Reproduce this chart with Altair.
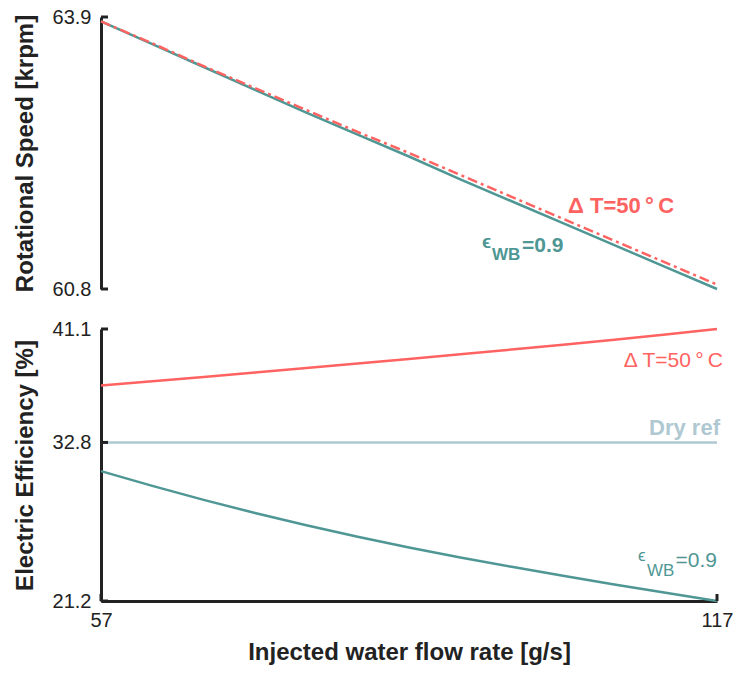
import altair as alt
import pandas as pd

# ---------------- data ----------------
flow = [57, 62, 67, 72, 77, 82, 87, 92, 97, 102, 107, 112, 117]
speed_wb = [63.85, 63.59, 63.33, 63.07, 62.81, 62.56, 62.31, 62.05, 61.80, 61.55, 61.30, 61.05, 60.80]
speed_dt = [63.85, 63.60, 63.34, 63.09, 62.84, 62.59, 62.35, 62.10, 61.85, 61.60, 61.35, 61.10, 60.85]
eff_dt = [36.96, 37.27, 37.59, 37.92, 38.25, 38.58, 38.91, 39.25, 39.60, 39.95, 40.32, 40.70, 41.10]
eff_dry = [32.8, 32.8, 32.8, 32.8, 32.8, 32.8, 32.8, 32.8, 32.8, 32.8, 32.8, 32.8, 32.8]
eff_wb = [30.70, 29.62, 28.60, 27.64, 26.74, 25.90, 25.12, 24.39, 23.70, 23.04, 22.41, 21.80, 21.20]

speed_ticks = [60.8, 63.9]
eff_ticks = [21.2, 32.8, 41.1]
flow_ticks = [57, 117]

# annotation texts (x, y in data units)
top_text = ["Δ T=50\u2009°\u2009C", "ϵ", "WB", "=0.9"]
top_tx = [102.49, 94.11, 95.08, 98.0]
top_ty = [61.67, 61.27, 61.13, 61.225]
top_size = [22, 19, 17, 21]
top_kind = ["dt", "wb", "wb", "wb"]

bot_text = ["Δ T=50\u2009°\u2009C", "Dry ref", "ϵ", "WB", "=0.9"]
bot_tx = [117.58, 117.29, 109.3, 110.18, 117.0]
bot_ty = [38.34, 33.36, 24.13, 23.03, 23.69]
bot_size = [21, 22, 17, 17, 21]
bot_kind = ["dt", "dry", "wb", "wb", "wb"]
bot_bold = [False, True, False, False, False]
bot_align = ["right", "right", "left", "left", "right"]

RED = "#FF6361"
TEAL = "#4F9794"
DRY = "#AFC8D2"
AX = "#222222"
FONT = "Liberation Sans"
COL = {"dt": RED, "wb": TEAL, "dry": DRY}

W, H = 616, 272

xscale = alt.Scale(domain=[57, 117], nice=False, zero=False)
yscale_top = alt.Scale(domain=[60.8, 63.9], nice=False, zero=False)
yscale_bot = alt.Scale(domain=[21.2, 41.1], nice=False, zero=False)

df = pd.DataFrame({"flow": flow, "speed_wb": speed_wb, "speed_dt": speed_dt,
                   "eff_dt": eff_dt, "eff_dry": eff_dry, "eff_wb": eff_wb})


def yaxis(vals, title):
    return alt.Axis(values=vals, format=".1f", title=title, ticks=False,
                    domainColor=AX, domainWidth=3, labelFontSize=20, labelColor=AX,
                    labelFont=FONT, labelPadding=10, titleFont=FONT, titleFontSize=24,
                    titleFontWeight="bold", titleColor=AX, titlePadding=15, grid=False,
                    labelFlush=False)


YA_TOP = yaxis(speed_ticks, "Rotational Speed [krpm]")
YA_BOT = yaxis(eff_ticks, "Electric Efficiency [%]")
XA_BOT = alt.Axis(values=flow_ticks, format="d", title="Injected water flow rate [g/s]", ticks=False,
                  domainColor=AX, domainWidth=3, labelFontSize=20, labelColor=AX, labelFont=FONT,
                  labelPadding=9, titleFont=FONT, titleFontSize=24, titleFontWeight="bold",
                  titleColor=AX, titlePadding=10, grid=False, labelFlush=False)

# ---------------- top panel ----------------
top_base = alt.Chart(df)
t_wb = top_base.mark_line(color=TEAL, strokeWidth=2.5).encode(
    x=alt.X("flow:Q", scale=xscale, axis=None),
    y=alt.Y("speed_wb:Q", scale=yscale_top, axis=YA_TOP),
)
t_dt = top_base.mark_line(color=RED, strokeWidth=2.5, strokeDash=[10, 4, 3, 4]).encode(
    x=alt.X("flow:Q", scale=xscale, axis=None),
    y=alt.Y("speed_dt:Q", scale=yscale_top, axis=YA_TOP),
)
t_ticks = alt.Chart(pd.DataFrame({"v": speed_ticks})).mark_rule(color=AX, strokeWidth=3).encode(
    y=alt.Y("v:Q", scale=yscale_top, axis=YA_TOP), x=alt.value(0), x2=alt.value(7))

top_layers = [t_wb, t_dt, t_ticks]
for i, s in enumerate(top_text):
    d = pd.DataFrame({"x": [top_tx[i]], "y": [top_ty[i]], "t": [s]})
    top_layers.append(alt.Chart(d).mark_text(
        align="left", baseline="alphabetic", fontSize=top_size[i], fontWeight="bold",
        font=FONT, color=COL[top_kind[i]]).encode(
        x=alt.X("x:Q", scale=xscale, axis=None),
        y=alt.Y("y:Q", scale=yscale_top, axis=YA_TOP), text="t:N"))

top = alt.layer(*top_layers).properties(width=W, height=H)

# ---------------- bottom panel ----------------
bot_base = alt.Chart(df)
b_dry = bot_base.mark_line(color=DRY, strokeWidth=2.5).encode(
    x=alt.X("flow:Q", scale=xscale, axis=XA_BOT),
    y=alt.Y("eff_dry:Q", scale=yscale_bot, axis=YA_BOT),
)
b_dt = bot_base.mark_line(color=RED, strokeWidth=2.5).encode(
    x=alt.X("flow:Q", scale=xscale, axis=XA_BOT),
    y=alt.Y("eff_dt:Q", scale=yscale_bot, axis=YA_BOT),
)
b_wb = bot_base.mark_line(color=TEAL, strokeWidth=2.5, interpolate="monotone").encode(
    x=alt.X("flow:Q", scale=xscale, axis=XA_BOT),
    y=alt.Y("eff_wb:Q", scale=yscale_bot, axis=YA_BOT),
)
b_yticks = alt.Chart(pd.DataFrame({"v": eff_ticks})).mark_rule(color=AX, strokeWidth=3).encode(
    y=alt.Y("v:Q", scale=yscale_bot, axis=YA_BOT), x=alt.value(0), x2=alt.value(7))
b_xticks = alt.Chart(pd.DataFrame({"v": flow_ticks})).mark_rule(color=AX, strokeWidth=3).encode(
    x=alt.X("v:Q", scale=xscale, axis=XA_BOT), y=alt.value(H), y2=alt.value(H - 7))

bot_layers = [b_dry, b_dt, b_wb, b_yticks, b_xticks]
for i, s in enumerate(bot_text):
    d = pd.DataFrame({"x": [bot_tx[i]], "y": [bot_ty[i]], "t": [s]})
    bot_layers.append(alt.Chart(d).mark_text(
        align=bot_align[i], baseline="alphabetic", fontSize=bot_size[i],
        fontWeight="bold" if bot_bold[i] else "normal",
        font=FONT, color=COL[bot_kind[i]]).encode(
        x=alt.X("x:Q", scale=xscale, axis=XA_BOT),
        y=alt.Y("y:Q", scale=yscale_bot, axis=YA_BOT), text="t:N"))

bottom = alt.layer(*bot_layers).properties(width=W, height=H)

chart = alt.vconcat(top, bottom, spacing=40, bounds="flush").properties(
    padding={"left": 13, "top": 7, "right": 5, "bottom": 5},
    background="white",
).configure_view(stroke=None)

chart.save("out.html", embed_options={"renderer": "svg", "actions": False})
